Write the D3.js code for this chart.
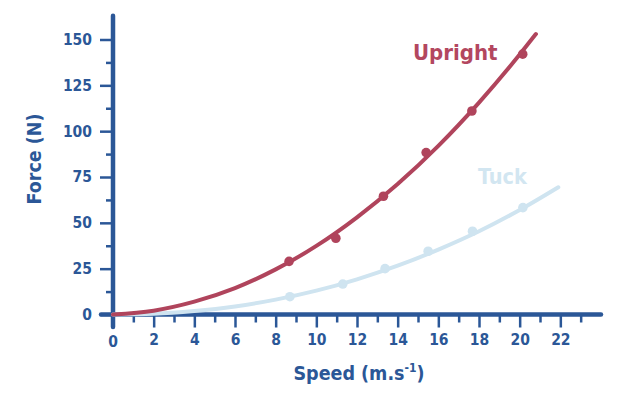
<!DOCTYPE html>
<html><head><meta charset="utf-8">
<script src="https://cdn.jsdelivr.net/npm/d3@7"></script>
<style>
html,body{margin:0;padding:0;background:#fff;}
svg text{font-family:'DejaVu Sans Condensed','DejaVu Sans',sans-serif;font-weight:bold;}
</style></head>
<body><svg id="c" width="632" height="395"></svg>
<script>
// Measured data points
const uprightSpeed = [8.66, 10.96, 13.3, 15.4, 17.65, 20.15];
const uprightForce = [29.0, 41.6, 64.5, 88.3, 111.0, 142.0];
const tuckSpeed = [8.7, 11.3, 13.38, 15.5, 17.68, 20.16];
const tuckForce = [9.7, 16.6, 25.0, 34.5, 45.4, 58.3];
// Trend lines
const uprightCurveSpeed = [0, 2, 4, 6, 8, 10, 12, 14, 16, 18, 20, 20.8];
const uprightCurveForce = [0, 2.1, 7.0, 14.4, 24.6, 37.4, 53.0, 71.2, 92.0, 115.6, 141.8, 153.0];
const tuckCurveSpeed = [0, 2, 4, 6, 8, 10, 12, 14, 16, 18, 20, 21.9];
const tuckCurveForce = [0, 0.4, 1.9, 4.4, 8.1, 13.0, 19.2, 26.6, 35.4, 45.4, 57.0, 69.4];
// Ticks
const xMajorTicks = [0, 2, 4, 6, 8, 10, 12, 14, 16, 18, 20, 22];
const xMinorTicks = [1, 3, 5, 7, 9, 11, 13, 15, 17, 19, 21, 23];
const yMajorTicks = [0, 25, 50, 75, 100, 125, 150];
const yMinorTicks = [12.5, 37.5, 62.5, 87.5, 112.5, 137.5];
const seriesNames = ["Upright", "Tuck"];

const axisColor = "#2b5797";
const redColor = "#b0445c";
const blueColor = "#cfe4f0";

const svg = d3.select("#c");
const x = d3.scaleLinear().domain([0, 24]).range([113, 601]);
const y = d3.scaleLinear().domain([0, 150]).range([314.5, 39.5]);

function styleAxis(g){
  g.select(".domain").remove();
  g.selectAll(".tick line").attr("stroke", axisColor).attr("stroke-width", 2.5);
  g.selectAll(".tick text").attr("fill", axisColor).attr("font-size", 15.5)
    .style("font-family","'DejaVu Sans Condensed','DejaVu Sans',sans-serif").style("font-weight","bold");
}
svg.append("g").attr("transform", `translate(0,${y(0)})`)
  .call(d3.axisBottom(x).tickValues(xMajorTicks.filter(d=>d>0)).tickSize(13).tickPadding(6).tickFormat(d3.format("d")))
  .call(styleAxis);
svg.append("g").attr("transform", `translate(0,${y(0)})`)
  .call(d3.axisBottom(x).tickValues(xMinorTicks).tickSize(8).tickFormat(""))
  .call(styleAxis);
svg.append("text").attr("x", x(0)).attr("y", y(0) + 32).attr("text-anchor","middle")
  .attr("fill", axisColor).attr("font-size", 15.5).text("0");

svg.append("g").attr("transform", `translate(${x(0)},0)`)
  .call(d3.axisLeft(y).tickValues(yMajorTicks).tickSize(13).tickPadding(8).tickFormat(d3.format("d")))
  .call(styleAxis);
svg.append("g").attr("transform", `translate(${x(0)},0)`)
  .call(d3.axisLeft(y).tickValues(yMinorTicks).tickSize(7).tickFormat(""))
  .call(styleAxis);

svg.append("line").attr("x1", x(0)).attr("x2", x(0)).attr("y1", y(163)).attr("y2", y(0) + 12.5)
  .attr("stroke", axisColor).attr("stroke-width", 4.5).attr("stroke-linecap","round");
svg.append("line").attr("x1", x(0) - 12).attr("x2", x(24)).attr("y1", y(0)).attr("y2", y(0))
  .attr("stroke", axisColor).attr("stroke-width", 4.5).attr("stroke-linecap","round");

const line = d3.line().x(d=>x(d[0])).y(d=>y(d[1])).curve(d3.curveMonotoneX);

svg.append("path").datum(tuckCurveSpeed.map((s,i)=>[s, tuckCurveForce[i]]))
  .attr("d", line).attr("fill","none").attr("stroke", blueColor).attr("stroke-width", 4).attr("stroke-linecap","round");
svg.selectAll(".tp").data(tuckSpeed.map((s,i)=>[s, tuckForce[i]])).enter().append("circle")
  .attr("cx", d=>x(d[0])).attr("cy", d=>y(d[1])).attr("r", 4.8).attr("fill", blueColor);

svg.append("path").datum(uprightCurveSpeed.map((s,i)=>[s, uprightCurveForce[i]]))
  .attr("d", line).attr("fill","none").attr("stroke", redColor).attr("stroke-width", 4).attr("stroke-linecap","round");
svg.selectAll(".up").data(uprightSpeed.map((s,i)=>[s, uprightForce[i]])).enter().append("circle")
  .attr("cx", d=>x(d[0])).attr("cy", d=>y(d[1])).attr("r", 4.8).attr("fill", redColor);

svg.append("text").attr("x", 413).attr("y", 59.5).attr("fill", "#b3475f").attr("font-size", 22).text(seriesNames[0]);
svg.append("text").attr("x", 478).attr("y", 183.5).attr("fill", "#d2e6f1").attr("font-size", 21.5).text(seriesNames[1]);

const xt = svg.append("text").attr("x", 359).attr("y", 380).attr("text-anchor","middle")
  .attr("fill", axisColor).attr("font-size", 19.5);
xt.append("tspan").text("Speed (m.s");
xt.append("tspan").attr("font-size", 12).attr("dy", -8).text("-1");
xt.append("tspan").attr("dy", 8).text(")");

svg.append("text").attr("transform", "translate(41,159) rotate(-90)").attr("text-anchor","middle")
  .attr("fill", axisColor).attr("font-size", 19.5).text("Force (N)");
</script></body></html>
